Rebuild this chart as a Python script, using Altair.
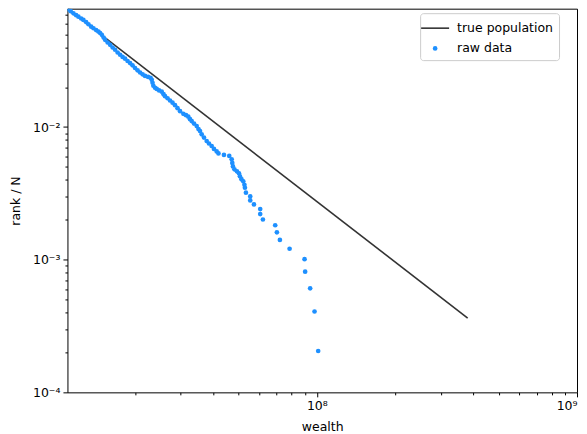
import altair as alt
import pandas as pd

# raw data: wealth values and rank / N
wealth = [
    1.107e7, 1.132e7, 1.160e7, 1.188e7, 1.212e7, 1.242e7, 1.267e7, 1.298e7, 1.325e7, 1.357e7,
    1.385e7, 1.418e7, 1.447e7, 1.469e7, 1.491e7, 1.515e7, 1.535e7, 1.570e7, 1.605e7, 1.641e7,
    1.677e7, 1.715e7, 1.753e7, 1.792e7, 1.832e7, 1.873e7, 1.915e7, 1.957e7, 2.001e7, 2.046e7,
    2.092e7, 2.139e7, 2.186e7, 2.245e7, 2.295e7, 2.320e7, 2.336e7, 2.353e7, 2.388e7, 2.424e7,
    2.475e7, 2.534e7, 2.575e7, 2.609e7, 2.668e7, 2.727e7, 2.788e7, 2.850e7, 2.914e7, 2.980e7,
    3.068e7, 3.142e7, 3.206e7, 3.255e7, 3.304e7, 3.372e7, 3.453e7, 3.508e7, 3.556e7, 3.609e7,
    3.683e7, 3.772e7, 3.849e7, 3.942e7, 4.023e7, 4.121e7, 4.187e7, 4.395e7, 4.606e7, 4.706e7,
    4.731e7, 4.759e7, 4.823e7, 4.931e7, 5.019e7, 5.063e7, 5.131e7, 5.213e7, 5.269e7, 5.292e7,
    5.339e7, 5.546e7, 5.546e7, 5.731e7, 6.058e7, 6.058e7, 6.204e7, 6.918e7, 7.022e7, 7.211e7,
    7.857e7, 8.970e7, 9.017e7, 9.425e7, 9.799e7, 1.012e8,
]
rank_frac = [
    0.0774, 0.0748, 0.0720, 0.0698, 0.0680, 0.0659, 0.0643, 0.0619, 0.0596, 0.0572,
    0.0556, 0.0539, 0.0525, 0.0512, 0.0496, 0.0473, 0.0455, 0.0434, 0.0417, 0.0398,
    0.0383, 0.0365, 0.0351, 0.0338, 0.0328, 0.0315, 0.0304, 0.0292, 0.0279, 0.0268,
    0.0258, 0.0250, 0.0243, 0.0239, 0.0235, 0.0227, 0.0216, 0.0205, 0.0198, 0.0194,
    0.0189, 0.0185, 0.0177, 0.0171, 0.0165, 0.01586, 0.01527, 0.01462, 0.01388, 0.01318,
    0.01259, 0.01230, 0.01199, 0.01148, 0.01109, 0.01062, 0.01017, 0.00966, 0.00933, 0.00882,
    0.00834, 0.00785, 0.00752, 0.00720, 0.00684, 0.00655, 0.00633, 0.00617, 0.00606, 0.00572,
    0.00537, 0.00505, 0.00480, 0.00464, 0.00448, 0.00425, 0.00405, 0.00390, 0.00367, 0.00349,
    0.00320, 0.00300, 0.00280, 0.00261, 0.00241, 0.00221, 0.00201, 0.00182, 0.00161, 0.00141,
    0.00121, 0.00101, 0.000813, 0.000609, 0.000407, 0.000205,
]

# true population power law (end points)
line_wealth = [1.10e7, 3.80e8]
line_rank = [0.0781, 3.63e-4]

series_names = ["true population", "raw data"]

pts = pd.DataFrame({"wealth": wealth, "rank": rank_frac, "series": series_names[1]})
ln = pd.DataFrame({"wealth": line_wealth, "rank": line_rank, "series": series_names[0]})

FONT = "DejaVu Sans"
FS = 12.5

xscale = alt.Scale(type="log", domain=[1.10e7, 1e9], nice=False)
yscale = alt.Scale(type="log", domain=[1e-4, 0.0781], nice=False)

x_major = [1e8, 1e9]
x_minor = [2e7, 3e7, 4e7, 5e7, 6e7, 7e7, 8e7, 9e7, 2e8, 3e8, 4e8, 5e8, 6e8, 7e8, 8e8, 9e8]
y_major = [1e-4, 1e-3, 1e-2]
y_minor = [2e-4, 3e-4, 4e-4, 5e-4, 6e-4, 7e-4, 8e-4, 9e-4,
           2e-3, 3e-3, 4e-3, 5e-3, 6e-3, 7e-3, 8e-3, 9e-3,
           2e-2, 3e-2, 4e-2, 5e-2, 6e-2, 7e-2]

common = dict(domain=False, grid=False, tickColor="black", tickWidth=1,
              labelColor="black", labelFont=FONT, labelFontSize=FS,
              titleFont=FONT, titleFontSize=FS, titleFontWeight="normal", titleColor="black")

ax_x_major = alt.Axis(values=x_major, tickSize=4.5, labelPadding=3, title="wealth",
                      titlePadding=8, orient="bottom",
                      labelExpr="datum.value > 5e8 ? '10\u2079' : '10\u2078'", **common)
ax_x_minor = alt.Axis(values=x_minor, tickSize=2.5, labels=False, title="", orient="bottom", **common)
ax_y_major = alt.Axis(values=y_major, tickSize=4.5, labelPadding=3, title="rank / N",
                      titlePadding=10, orient="left",
                      labelExpr="datum.value < 5e-4 ? '10\u207b\u2074' : (datum.value < 5e-3 ? '10\u207b\u00b3' : '10\u207b\u00b2')",
                      **common)
ax_y_minor = alt.Axis(values=y_minor, tickSize=2.5, labels=False, title="", orient="left", **common)

line_path = "M-1.4,-0.08H1.4V0.08H-1.4Z"
leg = alt.Legend(title=None, orient="none", legendX=353, legendY=4.5,
                 strokeColor="#cccccc", fillColor="rgba(255,255,255,0.8)", cornerRadius=3,
                 padding=5, labelFont=FONT, labelFontSize=FS, labelColor="black",
                 labelOffset=12, rowPadding=7, symbolStrokeWidth=0, symbolOpacity=1)

line = alt.Chart(ln).mark_line(color="#333333", strokeWidth=1.6, clip=True).encode(
    x=alt.X("wealth:Q", scale=xscale, axis=ax_x_major),
    y=alt.Y("rank:Q", scale=yscale, axis=ax_y_major),
)

points = alt.Chart(pts).mark_point(filled=True, opacity=1, clip=True, strokeWidth=0).encode(
    x=alt.X("wealth:Q", scale=xscale, axis=ax_x_minor),
    y=alt.Y("rank:Q", scale=yscale, axis=ax_y_minor),
    color=alt.Color("series:N", scale=alt.Scale(domain=series_names, range=["#333333", "#1E90FF"]), legend=leg),
    shape=alt.Shape("series:N", scale=alt.Scale(domain=series_names, range=[line_path, "circle"]), legend=leg),
    size=alt.Size("series:N", scale=alt.Scale(domain=series_names, range=[400, 22]), legend=leg),
)

chart = alt.layer(line, points).resolve_axis(x="independent", y="independent").properties(
    width=510, height=384, autosize="none",
    padding={"left": 59.5, "top": 0.5, "right": 2, "bottom": 41.5},
    background="white",
).configure_view(stroke="black", strokeWidth=1)

chart.save("out.html", embed_options={"renderer": "svg", "actions": False})
